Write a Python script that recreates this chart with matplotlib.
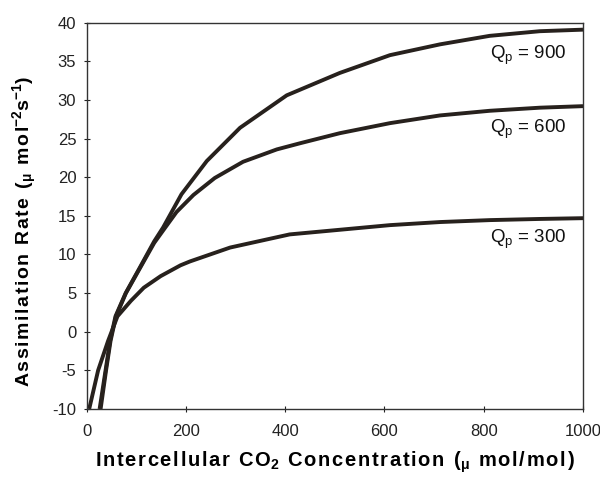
import matplotlib
matplotlib.use("Agg")
import matplotlib.pyplot as plt

plt.rcParams['font.family'] = ['Liberation Sans', 'DejaVu Sans']
plt.rcParams['mathtext.default'] = 'regular'
plt.rcParams['axes.unicode_minus'] = False

# Data (Ci in umol/mol, A in umol m-2 s-1)
ci_900 = [26, 38, 47, 58, 78.5, 107, 136, 154, 191, 242, 309, 403, 510, 611, 712, 812, 913, 1000]
a_900 = [-10, -5, -1.2, 2, 5, 8.3, 11.7, 13.5, 17.8, 22.1, 26.4, 30.6, 33.5, 35.8, 37.2, 38.3, 38.9, 39.1]

ci_600 = [28, 39, 48, 59, 79, 107, 136, 155, 181, 215, 258, 315, 383, 430, 510, 611, 712, 812, 913, 1000]
a_600 = [-10, -5, -1.2, 2, 5, 8.2, 11.5, 13.2, 15.5, 17.7, 19.9, 22.0, 23.6, 24.4, 25.7, 27.0, 28.0, 28.6, 29.0, 29.2]

ci_300 = [5, 23, 43, 62, 89, 115, 149, 189, 208, 289, 409, 510, 611, 712, 812, 913, 1000]
a_300 = [-10, -5, -1.2, 2, 4, 5.7, 7.2, 8.6, 9.1, 10.9, 12.6, 13.2, 13.8, 14.2, 14.45, 14.6, 14.7]

curve_labels = ['900', '600', '300']
label_y = [35.8, 26.2, 12.0]

x_ticks = [0, 200, 400, 600, 800, 1000]
y_ticks = [-10, -5, 0, 5, 10, 15, 20, 25, 30, 35, 40]

HS = '\u200a'


def spaced(s):
    return HS.join(s)


fig = plt.figure(figsize=(6.0, 4.79), dpi=100)
ax = fig.add_axes([0.1445, 0.1461, 0.8272, 0.8065])

line_color = '#27211d'
for xs, ys in [(ci_900, a_900), (ci_600, a_600), (ci_300, a_300)]:
    ax.plot(xs, ys, color=line_color, lw=2.8, solid_joinstyle='round', solid_capstyle='butt')

for lab, yy in zip(curve_labels, label_y):
    ax.text(967, yy, 'Q$_p$ = ' + lab, ha='right', va='center', fontsize=13.5, color='#111111')

ax.set_xlim(0, 1000)
ax.set_ylim(-10, 40)
ax.set_xticks(x_ticks)
ax.set_yticks(y_ticks)
ax.tick_params(axis='both', direction='inout', length=5, width=0.8, labelsize=12, colors='#222222')
ax.tick_params(axis='x', pad=8)
ax.tick_params(axis='y', pad=5)
for s in ax.spines.values():
    s.set_linewidth(1.0)
    s.set_color('#333333')

W = HS + ' ' + HS
xlabel = (spaced('Intercellular') + W + spaced('CO') + '$_2$' + W + spaced('Concentration')
          + W + '($_μ$' + W + spaced('mol/mol)'))
ylabel = (spaced('Assimilation') + W + spaced('Rate') + W + '($_μ$' + W + spaced('mol')
          + '$^{-2}$s$^{-1}$)')
ax.set_xlabel(xlabel, fontsize=14.5, fontweight='bold', labelpad=8)
ax.set_ylabel(ylabel, fontsize=14, fontweight='bold')
ax.yaxis.set_label_coords(-0.096, 0.46)

fig.savefig('out.png', dpi=100)
